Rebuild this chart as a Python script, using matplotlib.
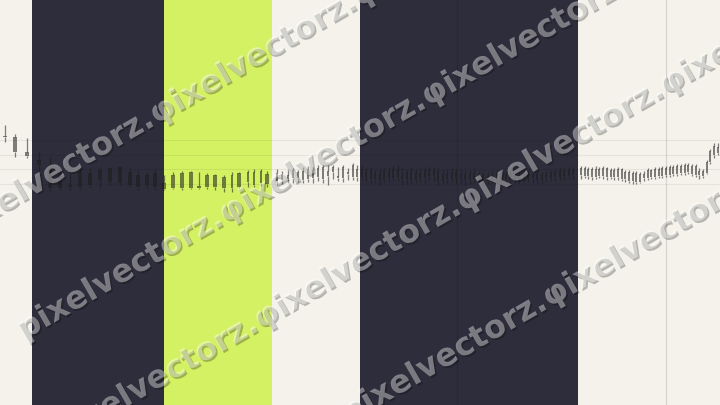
import numpy as np
import matplotlib.pyplot as plt
import matplotlib.patheffects as pe

# --- datos de las velas (eje x = tiempo, eje y = precio) ---
t = [5, 15, 27,
     39, 50, 60, 70, 80, 90, 100, 110, 120, 130, 138, 147, 155,
     164, 173, 182, 191, 199, 207, 215, 224, 232, 239, 248, 254, 261, 267,
     277, 282, 288, 293, 298, 303, 308, 313, 318, 323, 328, 333, 338, 343, 348, 353, 357,
     362, 366, 371, 375, 380, 384, 389, 393, 398, 402, 407, 411, 416, 420, 425, 429,
     434, 438, 443, 447, 452, 456, 461, 465, 470, 474, 479, 483, 488, 492, 497, 501,
     506, 510, 515, 519, 524, 528, 533, 537, 542, 546, 551, 555, 560, 564, 569, 573,
     581, 585, 588, 592, 596, 599, 603, 607, 611, 614, 618, 622, 625, 629, 633, 636,
     640, 644, 648, 651, 655, 659, 662, 666, 670, 673, 677, 681, 685, 688, 692, 696,
     699, 703, 707, 710, 714, 718]

apertura = [268, 268, 253,
            245, 237, 232, 220, 218, 232, 225, 237, 222, 233, 218, 230, 218,
            222, 217, 232, 217, 219, 230, 218, 228, 217, 232, 223, 233, 222, 231,
            232, 225, 230, 235, 227, 234, 226, 235, 228, 238, 229, 233, 229, 238, 233, 240, 228,
            236, 228, 234, 226, 231, 225, 233, 227, 236, 228, 226, 233, 225, 232, 227, 235,
            229, 234, 224, 231, 226, 233, 227, 231, 225, 232, 226, 230, 224, 229, 225, 232,
            226, 231, 225, 230, 226, 232, 227, 231, 225, 230, 227, 233, 228, 234, 229, 235,
            230, 237, 229, 236, 228, 236, 229, 237, 228, 235, 228, 236, 226, 233, 224, 232,
            223, 231, 227, 235, 228, 236, 229, 237, 230, 238, 231, 239, 232, 240, 231, 239,
            230, 234, 232, 243, 250, 252]

cierre = [269, 253, 249,
          240, 217, 217, 218, 233, 220, 235, 223, 238, 220, 230, 220, 232,
          216, 230, 217, 233, 217, 218, 230, 217, 230, 218, 233, 220, 234, 221,
          224, 231, 226, 227, 233, 225, 236, 227, 237, 226, 234, 238, 227, 227, 231, 228, 236,
          228, 233, 226, 231, 224, 234, 227, 236, 228, 226, 233, 225, 232, 227, 235, 229,
          234, 224, 231, 226, 233, 227, 231, 225, 232, 226, 230, 224, 229, 225, 232, 226,
          231, 225, 230, 226, 232, 227, 231, 225, 230, 227, 233, 228, 234, 229, 235, 230,
          237, 229, 236, 228, 236, 229, 237, 228, 235, 228, 236, 226, 233, 224, 232, 223,
          231, 227, 235, 228, 236, 229, 237, 230, 238, 231, 239, 232, 240, 233, 239, 230,
          234, 229, 243, 254, 259, 258]

maximo = [280, 271, 267,
          253, 248, 238, 235, 236, 237, 238, 238, 239, 237, 235, 233, 236,
          230, 233, 234, 234, 233, 232, 231, 230, 233, 233, 235, 236, 236, 234,
          236, 234, 236, 237, 235, 238, 239, 238, 240, 240, 240, 240, 238, 240, 237, 242, 240,
          239, 237, 238, 235, 236, 237, 238, 239, 240, 237, 236, 238, 236, 237, 238, 238,
          238, 237, 235, 236, 237, 236, 236, 235, 235, 236, 234, 234, 233, 234, 235, 235,
          234, 234, 234, 233, 235, 235, 234, 234, 233, 234, 235, 236, 237, 237, 238, 238,
          239, 239, 238, 238, 239, 238, 239, 238, 237, 237, 238, 237, 235, 235, 234, 234,
          233, 234, 237, 236, 238, 238, 239, 239, 240, 240, 241, 241, 242, 242, 241, 241,
          237, 236, 245, 256, 262, 262]

minimo = [263, 248, 247,
          230, 213, 215, 215, 215, 217, 217, 220, 220, 218, 215, 216, 215,
          215, 216, 215, 216, 216, 216, 215, 213, 213, 217, 218, 218, 219, 218,
          220, 221, 222, 222, 223, 222, 223, 222, 224, 222, 220, 226, 224, 223, 225, 225, 224,
          225, 223, 221, 222, 220, 222, 223, 224, 224, 220, 221, 221, 222, 223, 222, 224,
          223, 220, 221, 222, 223, 222, 221, 220, 221, 222, 221, 220, 221, 222, 221, 222,
          222, 221, 222, 222, 223, 223, 222, 222, 221, 223, 224, 224, 225, 225, 226, 226,
          226, 227, 226, 225, 226, 227, 226, 225, 226, 225, 225, 224, 223, 222, 221, 221,
          222, 224, 225, 226, 226, 227, 227, 228, 228, 229, 229, 230, 230, 231, 229, 228,
          226, 227, 231, 241, 247, 250]

# zonas de fondo (inicio, fin, tipo)
zona_inicio = [32, 164, 360]
zona_fin = [164, 272, 578]
zona_tipo = ['oscura', 'lima', 'oscura']

grid_x = [457, 666]
grid_y = [265, 250, 236, 221]

marca = 'pixelvectorz.' + 'φixelvectorz.' * 4

# --- estilo ---
COLOR_FONDO = '#f4f2ea'
COLORES_ZONA = {'oscura': '#2e2d3c', 'lima': '#d4f063'}
COLOR_VELA = '#1b1b1b'


def graficar():
    fig = plt.figure(figsize=(7.2, 4.05), dpi=100, facecolor=COLOR_FONDO)
    ax = fig.add_axes([0, 0, 1, 1])
    ax.set_facecolor(COLOR_FONDO)
    ax.set_xlim(0, 720)
    ax.set_ylim(0, 405)
    ax.axis('off')

    for x0, x1, tipo in zip(zona_inicio, zona_fin, zona_tipo):
        ax.axvspan(x0, x1, color=COLORES_ZONA[tipo], lw=0, zorder=1)

    for gx in grid_x:
        ax.axvline(gx, color='black', alpha=0.12, lw=0.9, zorder=2)
    for gy in grid_y:
        ax.axhline(gy, color='black', alpha=0.06, lw=0.8, zorder=2)

    x = np.array(t, dtype=float)
    o = np.array(apertura, dtype=float)
    c = np.array(cierre, dtype=float)
    h = np.array(maximo, dtype=float)
    l = np.array(minimo, dtype=float)

    paso = np.gradient(x)
    ancho = np.clip(paso * 0.38, 1.6, 3.4)
    cuerpo_abajo = np.minimum(o, c)
    cuerpo_arriba = np.maximum(o, c)
    alto = np.maximum(cuerpo_arriba - cuerpo_abajo, 1.2)

    # mechas sin pisar el cuerpo (el alpha se sumaria)
    ax.vlines(x, cuerpo_arriba, h, color=COLOR_VELA, alpha=0.55, lw=0.9, zorder=4)
    ax.vlines(x, l, cuerpo_abajo, color=COLOR_VELA, alpha=0.55, lw=0.9, zorder=4)
    ax.bar(x, alto, width=ancho, bottom=cuerpo_abajo, color=COLOR_VELA,
           alpha=0.55, lw=0, zorder=4)

    # marca de agua diagonal
    efectos = [pe.withSimplePatchShadow(offset=(1.2, -1.2), shadow_rgbFace='black', alpha=0.26)]
    for px, py in [(-49, 205), (20, 344), (55, 470), (141, 615)]:
        yy = py - np.tan(np.radians(30)) * px
        fig.text(px / 720, 1 - yy / 405, marca, rotation=30, rotation_mode='anchor',
                 ha='left', va='center', fontsize=23, fontweight='bold',
                 family='DejaVu Sans', color='white', alpha=0.4,
                 path_effects=efectos, zorder=10)

    fig.savefig('out.png', dpi=100, facecolor=COLOR_FONDO)


if __name__ == '__main__':
    graficar()
